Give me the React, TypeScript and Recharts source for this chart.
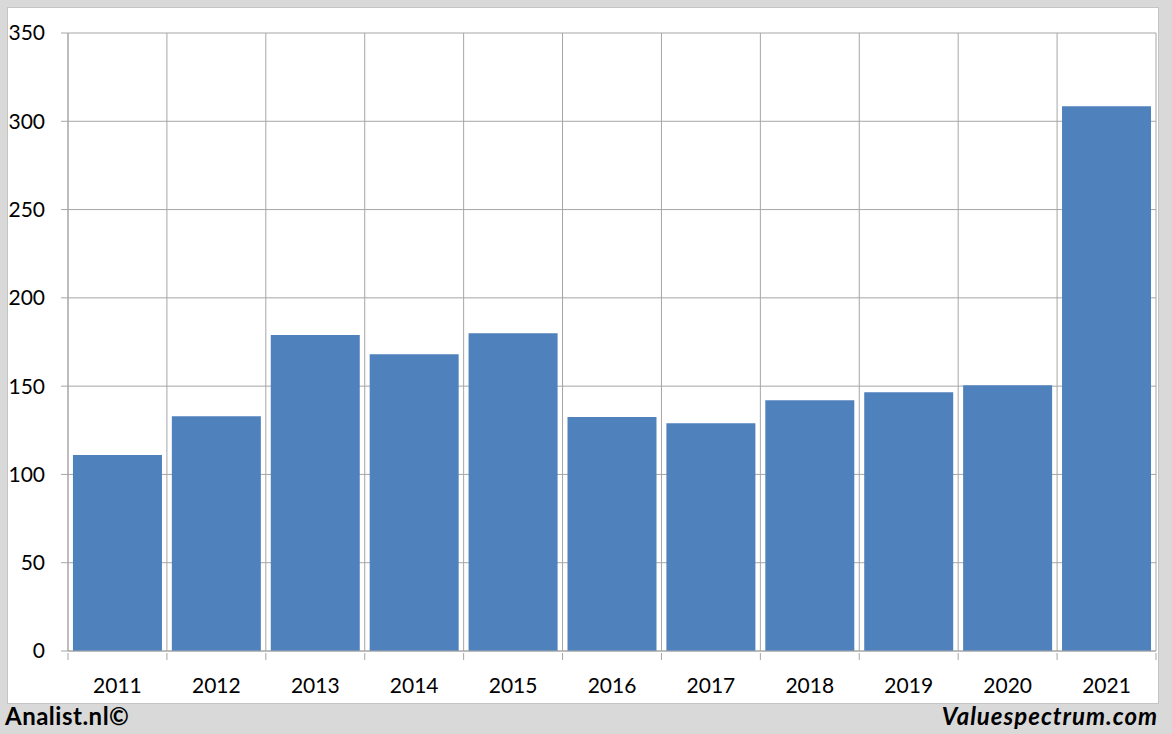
import { BarChart, Bar, XAxis, YAxis, CartesianGrid } from "recharts";

const years = ["2011", "2012", "2013", "2014", "2015", "2016", "2017", "2018", "2019", "2020", "2021"];
const values = [111, 133, 179, 168, 180, 132.5, 129, 142, 146.5, 150.5, 308.5];
const yTicks = [0, 50, 100, 150, 200, 250, 300, 350];

const data = years.map((year, i) => ({ year, value: values[i] }));

const FONT = "Lato, 'Open Sans', sans-serif";
const GRID = "#a6a6a6";

// vertical grid lines sit on the category boundaries, not the centres
const boundaryLines = ({ offset }: any) => {
  const step = offset.width / years.length;
  return years.map((_, i) => offset.left + i * step).concat(offset.left + offset.width);
};

// year label plus a small tick mark on the left boundary of each category
const YearTick = (props: any) => {
  const { x, y, payload, index } = props;
  const half = payload?.offset ?? 0;
  const left = x - half;
  const right = x + half;
  const axisY = y;
  return (
    <g>
      <line x1={left} x2={left} y1={axisY} y2={axisY + 7} stroke={GRID} />
      {index === years.length - 1 && (
        <line x1={right} x2={right} y1={axisY} y2={axisY + 7} stroke={GRID} />
      )}
      <text
        x={x}
        y={axisY + 25}
        dy="0.71em"
        textAnchor="middle"
        fontSize={21}
        fontFamily={FONT}
        fill="#000"
      >
        {payload.value}
      </text>
    </g>
  );
};

export default function App() {
  return (
    <div
      style={{
        position: "absolute",
        left: 0,
        top: 0,
        width: 1172,
        height: 734,
        background: "#d9d9d9",
        fontFamily: FONT,
      }}
    >
      <div
        style={{
          position: "absolute",
          left: 7,
          top: 7,
          width: 1150,
          height: 695,
          background: "#fff",
          border: "1px solid #c4c4c4",
        }}
      />
      <div style={{ position: "absolute", left: 0, top: 0 }}>
        <BarChart
          width={1172}
          height={734}
          data={data}
          margin={{ top: 33, right: 16, left: 0, bottom: 33 }}
          barCategoryGap="5%"
        >
          <CartesianGrid
            stroke={GRID}
            strokeWidth={1}
            verticalCoordinatesGenerator={boundaryLines}
          />
          <XAxis
            dataKey="year"
            height={50}
            axisLine={{ stroke: GRID }}
            tickLine={false}
            tickSize={0}
            tick={<YearTick />}
            interval={0}
          />
          <YAxis
            domain={[0, 350]}
            ticks={yTicks}
            width={68}
            axisLine={{ stroke: GRID }}
            tickLine={{ stroke: GRID }}
            tickSize={7}
            tickMargin={16}
            tick={{ fontSize: 21, fill: "#000", fontFamily: FONT }}
          />
          <Bar dataKey="value" fill="#4f81bd" isAnimationActive={false} />
        </BarChart>
      </div>
      <div
        style={{
          position: "absolute",
          left: 5,
          top: 701,
          fontSize: 24,
          letterSpacing: 0.5,
          fontWeight: 700,
          color: "#000",
        }}
      >
        Analist.nl©
      </div>
      <div
        style={{
          position: "absolute",
          right: 14,
          top: 701,
          fontSize: 24,
          letterSpacing: 1,
          fontWeight: 700,
          fontStyle: "italic",
          color: "#000",
        }}
      >
        Valuespectrum.com
      </div>
    </div>
  );
}
